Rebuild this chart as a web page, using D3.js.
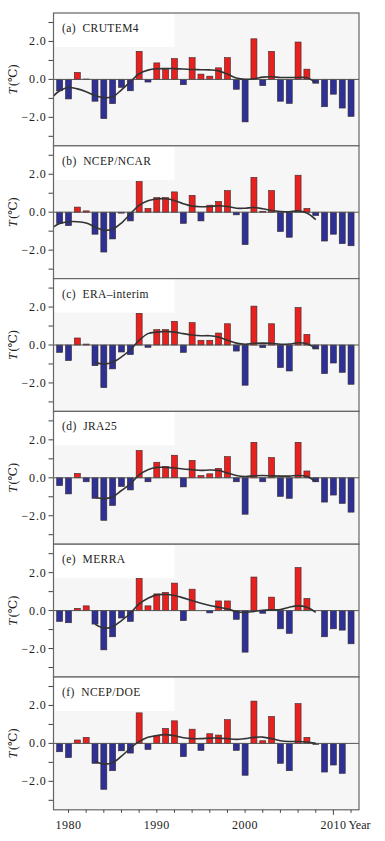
<!DOCTYPE html>
<html>
<head>
<meta charset="utf-8">
<script src="https://cdn.jsdelivr.net/npm/d3@7"></script>
<style>
  body { margin: 0; background: #fff; }
  svg text { font-family: "Liberation Serif", "DejaVu Serif", serif; fill: #222; }
</style>
</head>
<body>
<svg id="chart" width="385" height="841"></svg>
<script>
// years on the x axis, one bar each
const years = [1979, 1980, 1981, 1982, 1983, 1984, 1985, 1986, 1987, 1988, 1989,
  1990, 1991, 1992, 1993, 1994, 1995, 1996, 1997, 1998, 1999,
  2000, 2001, 2002, 2003, 2004, 2005, 2006, 2007, 2008, 2009,
  2010, 2011, 2012];

const panelNames = ["(a)  CRUTEM4", "(b)  NCEP/NCAR", "(c)  ERA\u2013interim",
  "(d)  JRA25", "(e)  MERRA", "(f)  NCEP/DOE"];

// anomaly bars (°C)
const crutem4 = [-0.60, -1.03, 0.37, 0.02, -1.15, -2.07, -1.28, -0.42, -0.60, 1.48, -0.14,
  0.87, 0.52, 1.10, -0.28, 1.15, 0.28, 0.17, 0.61, 1.15, -0.52,
  -2.24, 2.14, -0.33, 1.48, -1.15, -1.27, 1.97, 0.54, -0.20, -1.44,
  -0.78, -1.51, -1.95];
const ncepNcar = [-0.59, -0.71, 0.27, 0.07, -1.16, -2.10, -1.41, -0.05, -0.46, 1.62, 0.20,
  0.77, 0.77, 1.07, -0.59, 0.89, -0.46, 0.37, 0.57, 1.14, -0.14,
  -1.71, 1.84, 0.05, 1.14, -1.02, -1.32, 1.95, 0.20, -0.18, -1.52,
  -1.16, -1.66, -1.77];
const eraInterim = [-0.39, -0.82, 0.37, 0.05, -1.09, -2.25, -1.26, -0.37, -0.51, 1.67, -0.12,
  0.81, 0.81, 1.25, -0.39, 1.18, 0.25, 0.25, 0.63, 1.12, -0.32,
  -2.12, 2.05, -0.14, 1.12, -1.19, -1.37, 1.98, 0.56, -0.21, -1.51,
  -0.95, -1.44, -2.07];
const jra25 = [-0.41, -0.85, 0.23, -0.21, -1.08, -2.24, -1.46, -0.46, -0.64, 1.44, -0.21,
  0.82, 0.60, 1.19, -0.48, 0.92, 0.12, 0.21, 0.50, 1.12, -0.21,
  -1.92, 1.87, -0.21, 1.07, -0.98, -1.08, 1.87, 0.36, -0.21, -1.28,
  -0.91, -1.35, -1.81];
const merra = [-0.57, -0.64, 0.12, 0.25, -0.71, -2.07, -1.38, -0.39, -0.57, 1.70, 0.25,
  0.88, 0.96, 1.45, -0.53, 1.13, 0.00, -0.12, 0.51, 0.51, -0.46,
  -2.19, 1.77, -0.14, 0.71, -0.96, -1.20, 2.27, 0.64, 0.00, -1.38,
  -0.96, -1.03, -1.75];
const ncepDoe = [-0.44, -0.75, 0.18, 0.32, -1.05, -2.42, -1.44, -0.39, -0.51, 1.61, -0.32,
  0.40, 0.79, 1.19, -0.70, 0.75, -0.37, 0.51, 0.44, 1.25, -0.37,
  -1.68, 2.23, 0.14, 1.42, -1.05, -1.44, 2.10, 0.32, -0.05, -1.51,
  -1.14, -1.58, null];

// smoothed curves (year, value)
const curveYearsLong = [1978.3, 1979, 1980, 1981, 1982, 1983, 1984, 1985, 1986, 1987, 1988,
  1989, 1990, 1991, 1992, 1993, 1994, 1995, 1996, 1997, 1998,
  1999, 2000, 2001, 2002, 2003, 2004, 2005, 2006, 2007, 2008];
const curveYearsShort = [1983, 1984, 1985, 1986, 1987, 1988,
  1989, 1990, 1991, 1992, 1993, 1994, 1995, 1996, 1997, 1998,
  1999, 2000, 2001, 2002, 2003, 2004, 2005, 2006, 2007, 2008];
const crutem4Smooth = [-0.87, -0.60, -0.43, -0.50, -0.65, -0.85, -0.96, -0.92, -0.55, -0.12, 0.30,
  0.49, 0.56, 0.57, 0.57, 0.55, 0.52, 0.51, 0.50, 0.45, 0.28,
  0.07, 0.00, 0.03, 0.12, 0.14, 0.10, 0.10, 0.10, 0.09, -0.17];
const ncepNcarSmooth = [-0.77, -0.60, -0.50, -0.50, -0.57, -0.78, -0.95, -0.89, -0.57, -0.09, 0.36,
  0.60, 0.70, 0.71, 0.62, 0.45, 0.32, 0.29, 0.30, 0.34, 0.30,
  0.21, 0.21, 0.25, 0.18, 0.09, 0.04, 0.02, 0.07, -0.04, -0.39];
const eraInterimSmooth = [-0.92, -1.00, -0.91, -0.63, -0.25, 0.25,
  0.60, 0.68, 0.72, 0.68, 0.60, 0.53, 0.49, 0.49, 0.42, 0.25,
  0.10, 0.04, 0.09, 0.10, 0.09, 0.04, 0.05, 0.12, 0.07, -0.18];
const jra25Smooth = [-1.03, -1.10, -1.00, -0.67, -0.32, 0.16,
  0.43, 0.55, 0.55, 0.52, 0.46, 0.43, 0.39, 0.41, 0.39, 0.25,
  0.12, 0.07, 0.10, 0.12, 0.10, 0.09, 0.09, 0.12, 0.07, -0.20];
const merraSmooth = [-0.71, -0.92, -0.85, -0.53, -0.14, 0.35,
  0.65, 0.83, 0.85, 0.80, 0.67, 0.53, 0.39, 0.27, 0.18, 0.09,
  -0.05, -0.10, -0.04, 0.02, 0.04, 0.05, 0.18, 0.25, 0.18, -0.09];
const ncepDoeSmooth = [-0.96, -1.09, -1.02, -0.67, -0.26, 0.09,
  0.32, 0.42, 0.46, 0.40, 0.30, 0.25, 0.25, 0.28, 0.28, 0.25,
  0.21, 0.25, 0.32, 0.33, 0.25, 0.14, 0.10, 0.10, 0.07, 0.00];

const yTicks = [-3, -2, -1, 0, 1, 2, 3];
const yLabels = [-2, 0, 2];
const xTicks = [1980, 1982, 1984, 1986, 1988, 1990, 1992, 1994, 1996, 1998,
  2000, 2002, 2004, 2006, 2008, 2010, 2012];
const xLabels = [1980, 1990, 2000, 2010];

const panels = [
  { name: panelNames[0], bars: crutem4, cx: curveYearsLong, cy: crutem4Smooth },
  { name: panelNames[1], bars: ncepNcar, cx: curveYearsLong, cy: ncepNcarSmooth },
  { name: panelNames[2], bars: eraInterim, cx: curveYearsShort, cy: eraInterimSmooth },
  { name: panelNames[3], bars: jra25, cx: curveYearsShort, cy: jra25Smooth },
  { name: panelNames[4], bars: merra, cx: curveYearsShort, cy: merraSmooth },
  { name: panelNames[5], bars: ncepDoe, cx: curveYearsShort, cy: ncepDoeSmooth }
];

const svg = d3.select("#chart");
const left = 53.5, right = 359, top0 = 13, panelH = 132.8;

const x = d3.scaleLinear().domain([1978.3, 2012.9]).range([left, right]);
const barW = 6;

const fmt = d => d === 0 ? "0.0" : (d < 0 ? "\u2212" : "") + Math.abs(d).toFixed(1);

panels.forEach((p, i) => {
  const top = top0 + i * panelH;
  const y = d3.scaleLinear().domain([-3.5, 3.5]).range([top + panelH, top]);
  const g = svg.append("g").attr("class", "panel");

  // plot background
  g.append("rect")
    .attr("x", left).attr("y", top)
    .attr("width", right - left).attr("height", panelH)
    .attr("fill", "#f6f6f6");

  // white box behind the panel name
  g.append("rect")
    .attr("x", left + 1).attr("y", top + 1)
    .attr("width", 120).attr("height", 33)
    .attr("fill", "#fff");

  g.append("text")
    .attr("x", 62).attr("y", top + 19)
    .style("font-size", "11.5px")
    .style("letter-spacing", "0.4px")
    .attr("xml:space", "preserve")
    .text(p.name);

  // bars
  const barData = years.map((yr, k) => ({ yr, v: p.bars[k] })).filter(d => d.v !== null);
  g.selectAll("rect.bar")
    .data(barData)
    .enter()
    .append("rect")
    .attr("class", "bar")
    .attr("x", d => x(d.yr) - barW / 2)
    .attr("y", d => y(Math.max(0, d.v)))
    .attr("width", barW)
    .attr("height", d => Math.abs(y(d.v) - y(0)))
    .attr("fill", d => d.v >= 0 ? "#e8201e" : "#2d3094")
    .attr("stroke", "#3a2a2a")
    .attr("stroke-width", 0.6);

  // zero line
  g.append("line")
    .attr("x1", left).attr("x2", right)
    .attr("y1", y(0)).attr("y2", y(0))
    .attr("stroke", "#555").attr("stroke-width", 1);

  // smooth curve
  const line = d3.line()
    .x(d => x(d[0]))
    .y(d => y(d[1]))
    .curve(d3.curveCatmullRom.alpha(0.5));
  g.append("path")
    .datum(p.cx.map((yr, k) => [yr, p.cy[k]]))
    .attr("d", line)
    .attr("fill", "none")
    .attr("stroke", "#333")
    .attr("stroke-width", 1.6);

  // left axis
  const yAxis = g.append("g").attr("transform", `translate(${left},0)`);
  yAxis.selectAll("line")
    .data(yTicks)
    .enter()
    .append("line")
    .attr("x1", -5).attr("x2", 0)
    .attr("y1", d => y(d)).attr("y2", d => y(d))
    .attr("stroke", "#444").attr("stroke-width", 1);
  yAxis.selectAll("text")
    .data(yLabels)
    .enter()
    .append("text")
    .attr("x", -7)
    .attr("y", d => y(d) + 4)
    .attr("text-anchor", "end")
    .style("font-size", "12px")
    .style("letter-spacing", "0.8px")
    .text(fmt);

  // y title
  const t = g.append("text")
    .attr("transform", `translate(17,${y(0)}) rotate(-90)`)
    .attr("text-anchor", "middle")
    .style("font-size", "12px");
  t.append("tspan").style("font-style", "italic").text("T");
  t.append("tspan").attr("dx", 1.5).text("(\u2103)");

  // frame
  g.append("rect")
    .attr("x", left).attr("y", top)
    .attr("width", right - left).attr("height", panelH)
    .attr("fill", "none")
    .attr("stroke", "#666").attr("stroke-width", 1.2);
});

// bottom x axis
const bottom = top0 + panels.length * panelH;
const xAxis = svg.append("g").attr("transform", `translate(0,${bottom})`);
xAxis.selectAll("line")
  .data(xTicks)
  .enter()
  .append("line")
  .attr("x1", d => x(d)).attr("x2", d => x(d))
  .attr("y1", 0).attr("y2", d => d === 2010 ? 5 : 3)
  .attr("stroke", "#444").attr("stroke-width", 1);
xAxis.selectAll("text")
  .data(xLabels)
  .enter()
  .append("text")
  .attr("x", d => x(d))
  .attr("y", 19)
  .attr("text-anchor", "middle")
  .style("font-size", "12px")
  .style("letter-spacing", "0.5px")
  .text(d => d);
xAxis.append("text")
  .attr("x", x(2010) + 15)
  .attr("y", 19)
  .style("font-size", "12px")
  .text("Year");
</script>
</body>
</html>
